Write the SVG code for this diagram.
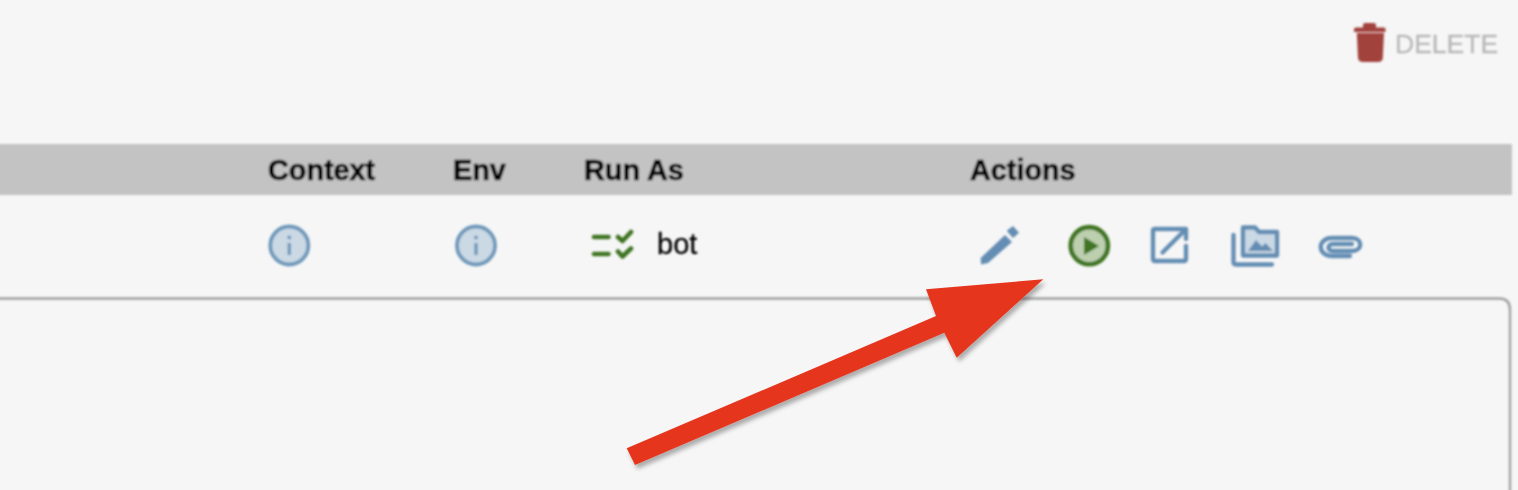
<svg xmlns="http://www.w3.org/2000/svg" width="1518" height="490" viewBox="0 0 1518 490">
<defs>
<style>
text{font-family:"Liberation Sans",Arial,sans-serif}
.h{font-size:28.800px;font-weight:700;fill:#000;stroke:#000;stroke-width:0.700px}
.blue{fill:#648db3}
.pale{fill:#cbd9e5}
.ol{fill:none;stroke:#648db3;stroke-width:4.300;stroke-linecap:round;stroke-linejoin:round}
.grn{fill:none;stroke:#3f7524;stroke-width:4.600;stroke-linecap:round;stroke-linejoin:round}
.info{fill:#cbd9e5;stroke:#6f98ba;stroke-width:3.800}
.istem{fill:#6f98ba}
</style>
<filter id="s" filterUnits="userSpaceOnUse" x="-10" y="-10" width="1540" height="510"><feGaussianBlur stdDeviation="0.85"/></filter>
<filter id="sh" filterUnits="userSpaceOnUse" x="600" y="260" width="470" height="225"><feDropShadow dx="2.500" dy="4" stdDeviation="2.200" flood-color="#000" flood-opacity="0.3"/></filter>
</defs>
<rect width="1518" height="490" fill="#f6f6f6"/>
<g filter="url(#s)">
<g id="delete">
<path d="M1363 27.500V25Q1363 23 1365 23H1374Q1376 23 1376 25V27.500H1384Q1385.500 27.500 1385.500 29V32H1354V29Q1354 27.500 1356 27.500Z" fill="#a2433d"/>
<path d="M1356.800 33H1384L1382.800 58Q1382.500 62 1378 62H1363Q1358.500 62 1358 58Z" fill="#a2433d"/>
<text x="1395" y="52.500" font-size="26.500" fill="#b8b8b8" stroke="#b8b8b8" stroke-width="0.300">DELETE</text>
</g>
<g id="header">
<rect x="-4" y="144" width="1516" height="51" fill="#c3c3c3"/>
<text class="h" x="268" y="180">Context</text>
<text class="h" x="453" y="180">Env</text>
<text class="h" x="584" y="180">Run As</text>
<text class="h" x="970" y="180">Actions</text>
</g>
<g id="context-info">
<circle class="info" cx="289.300" cy="245.500" r="19"/>
<rect class="istem" x="287.600" y="243" width="3.400" height="12"/>
<circle class="istem" cx="289.300" cy="237.500" r="2"/>
</g>
<g id="env-info">
<circle class="info" cx="476" cy="245.500" r="19"/>
<rect class="istem" x="474.300" y="243" width="3.400" height="12"/>
<circle class="istem" cx="476" cy="237.500" r="2"/>
</g>
<g id="run-as">
<path class="grn" d="M594 237H608.500M594 254H608.500"/>
<path class="grn" d="M618 237L622.500 241L631 232M618 251.500L622.500 256.500L631 248.500"/>
<text x="657" y="254" font-size="29" fill="#000" stroke="#000" stroke-width="0.300">bot</text>
</g>
<g id="edit">
<path class="blue" d="M980.700 258L1005 235L1012 242L988 263L981 264.500Z"/>
<path class="blue" d="M1006.700 230.700L1013 226L1019 232.700L1013 238Z"/>
</g>
<g id="run">
<circle cx="1089.300" cy="245.700" r="18.600" fill="#bccfae" stroke="#3f7524" stroke-width="4.600"/>
<path d="M1084 237L1099 246L1084 255Z" fill="#3f7524"/>
</g>
<g id="open">
<path class="ol" d="M1173 229H1155Q1153 229 1153 231V259Q1153 261 1155 261H1184Q1186 261 1186 259V246"/>
<path class="ol" d="M1162.500 252.500L1185 230M1175 229H1186V239"/>
</g>
<g id="gallery">
<path class="ol" d="M1233.500 235V262Q1233.500 264.500 1236 264.500H1272"/>
<path d="M1243 227.500H1255L1259 232H1277V255.500H1243Z" class="pale" stroke="#648db3" stroke-width="4.300" stroke-linejoin="round"/>
<path class="blue" d="M1248 251L1256 240L1262 246.500L1265.500 243L1273 251Z"/>
</g>
<g id="attach">
<path class="ol" d="M1350 256H1332C1317 256 1317 238 1332 238H1352C1363 238 1363 251 1352 251H1333C1327 251 1327 244 1333 244H1352"/>
</g>
<g id="panel">
<path d="M-4 298.500H1499Q1510 298.500 1510 309.500V494" fill="none" stroke="#a0a0a0" stroke-width="2.400"/>
</g>
</g>
<g id="connectors">
<path id="arrow" d="M626.700 448.300L936 316L926 289.300L1043.300 279.300L956.700 357.700L944.300 332.700L635 465Z" fill="#e5351f" filter="url(#sh)"/>
</g>
</svg>
